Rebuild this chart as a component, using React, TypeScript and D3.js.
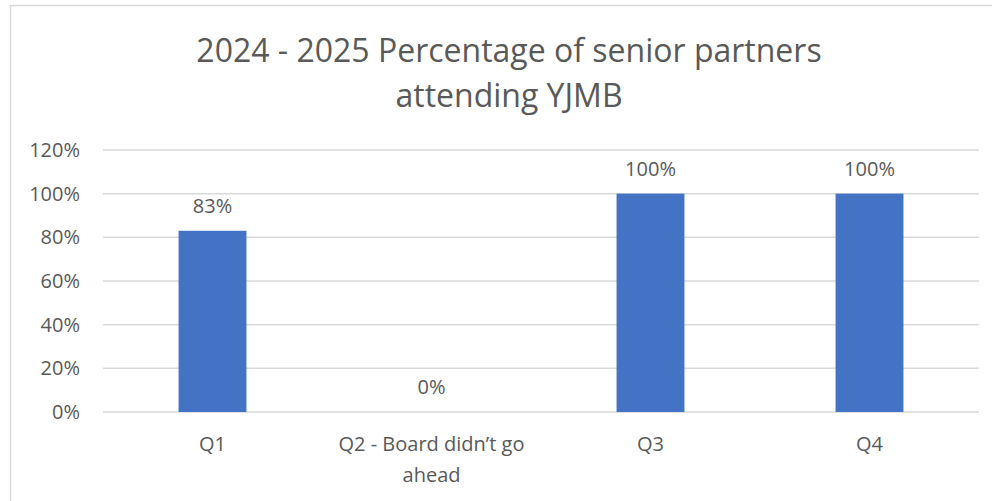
import React from 'react';
import * as d3 from 'd3';

const categories = ['Q1', "Q2 - Board didn\u2019t go ahead", 'Q3', 'Q4'];
const categoryLines = [['Q1'], ['Q2 - Board didn\u2019t go', 'ahead'], ['Q3'], ['Q4']];
const values = [0.83, 0, 1, 1];
const yTicks = [0, 0.2, 0.4, 0.6, 0.8, 1, 1.2];
const titleLines = ['2024 - 2025 Percentage of senior partners', 'attending YJMB'];

const width = 992;
const height = 501;
const margin = { top: 150, right: 13, bottom: 89, left: 103 };
const font = '"Open Sans", sans-serif';
const textColor = '#595959';

const App = () => {
  const x = d3.scaleBand()
    .domain(categories)
    .range([margin.left, width - margin.right])
    .paddingInner(0.69)
    .paddingOuter(0.345);

  const y = d3.scaleLinear()
    .domain([0, 1.2])
    .range([height - margin.bottom, margin.top]);

  const step = (width - margin.left - margin.right) / categories.length;
  const pct = d3.format('.0%');

  return (
    <svg width={width} height={height} style={{ position: 'absolute', left: 0, top: 0, background: '#fff' }}>
      <rect x={10.5} y={5.5} width={width + 20} height={height + 20} fill="#fff" stroke="#d9d9d9" strokeWidth={1.5} />
      <text textAnchor="middle" fontFamily={font} fontSize={32} fill={textColor}>
        {titleLines.map((t, i) => (
          <tspan key={i} x={509} y={62 + i * 45}>{t}</tspan>
        ))}
      </text>
      {yTicks.map(t => (
        <g key={t}>
          <line x1={margin.left} x2={width - margin.right} y1={y(t)} y2={y(t)} stroke="#d9d9d9" strokeWidth={1.5} />
          <text x={80} y={y(t) + 7} textAnchor="end" fontFamily={font} fontSize={20} fill={textColor}>{pct(t)}</text>
        </g>
      ))}
      {categories.map((c, i) => (
        <g key={c}>
          <rect x={x(c)} y={y(values[i])} width={x.bandwidth()} height={y(0) - y(values[i])} fill="#4472c4" />
          <text x={x(c)! + x.bandwidth() / 2} y={y(values[i]) - 18} textAnchor="middle" fontFamily={font} fontSize={20} fill={textColor}>
            {pct(values[i])}
          </text>
          <text textAnchor="middle" fontFamily={font} fontSize={20} fill={textColor}>
            {categoryLines[i].map((l, j) => (
              <tspan key={j} x={margin.left + step * (i + 0.5)} y={451 + j * 31}>{l}</tspan>
            ))}
          </text>
        </g>
      ))}
    </svg>
  );
};

export default App;
